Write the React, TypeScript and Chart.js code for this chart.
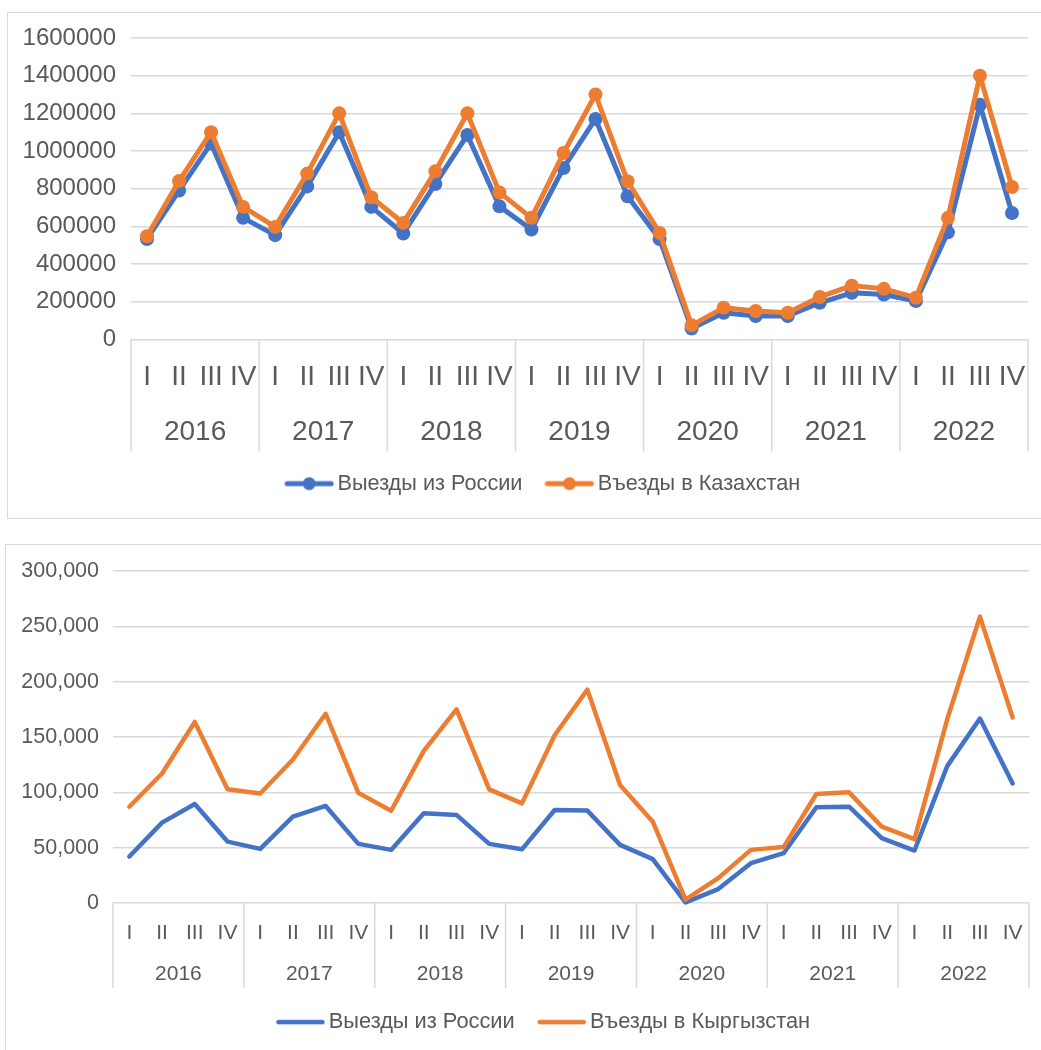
import React, { useEffect, useRef } from 'react';
import { Chart, registerables } from 'chart.js';

Chart.register(...registerables);

// ---------- data ----------
const years = ['2016', '2017', '2018', '2019', '2020', '2021', '2022'];
const quarters = ['I', 'II', 'III', 'IV'];

const kzSeriesNames = ['Выезды из России', 'Въезды в Казахстан'];
const kzExitsRussia = [533000, 790000, 1040000, 645000, 553000, 812000, 1100000, 703000, 562000, 825000, 1085000, 706000, 583000, 910000, 1170000, 759000, 533000, 57000, 141000, 124000, 124000, 194000, 247000, 238000, 203000, 568000, 1245000, 671000];
const kzEntries = [547000, 840000, 1100000, 703000, 597000, 880000, 1200000, 754000, 618000, 892000, 1200000, 780000, 645000, 989000, 1300000, 839000, 565000, 74000, 168000, 150000, 141000, 225000, 285000, 268000, 221000, 645000, 1400000, 809000];

const kgSeriesNames = ['Выезды из России', 'Въезды в Кыргызстан'];
const kgExitsRussia = [42000, 72600, 89500, 55500, 48900, 78000, 87700, 53400, 48000, 81000, 79600, 53400, 48500, 84000, 83500, 52500, 39600, 500, 12600, 36000, 45000, 86500, 87000, 58600, 47400, 123700, 166700, 108000];
const kgEntries = [87000, 117000, 163600, 102700, 99000, 129700, 171000, 99500, 83400, 137500, 175000, 102700, 90000, 151600, 192800, 106600, 73500, 3000, 22500, 48000, 50500, 98500, 100000, 69000, 57700, 166000, 258800, 167600];

const kzYMax = 1600000;
const kzYStep = 200000;
const kgYMax = 300000;
const kgYStep = 50000;

// ---------- styling ----------
const BLUE = '#4472C4';
const ORANGE = '#ED7D31';
const TEXT = '#595959';
const GRID = '#d9d9d9';
const FONT = "'Liberation Sans', Arial, sans-serif";

const quarterLabels: string[] = years.flatMap(() => quarters);

function makeLegendImage(color: string, lineWidth: number, dotRadius: number) {
  const c = document.createElement('canvas');
  c.width = 50;
  c.height = 16;
  const ctx = c.getContext('2d')!;
  ctx.strokeStyle = color;
  ctx.lineWidth = lineWidth;
  ctx.lineCap = 'round';
  ctx.beginPath();
  ctx.moveTo(3, 8);
  ctx.lineTo(47, 8);
  ctx.stroke();
  if (dotRadius > 0) {
    ctx.fillStyle = color;
    ctx.beginPath();
    ctx.arc(25, 8, dotRadius, 0, Math.PI * 2);
    ctx.fill();
  }
  return c;
}

const yearSeparators = {
  id: 'yearSeparators',
  afterDraw(chart: any, _args: any, opts: any) {
    const xs = chart.scales.x;
    const x2 = chart.scales.x2;
    const ctx = chart.ctx;
    ctx.save();
    ctx.strokeStyle = opts.color;
    ctx.lineWidth = opts.width;
    const n = years.length;
    for (let i = 0; i <= n; i++) {
      const px = xs.left + (xs.width * i) / n;
      ctx.beginPath();
      ctx.moveTo(px, xs.top);
      ctx.lineTo(px, x2.bottom + opts.extra);
      ctx.stroke();
    }
    ctx.restore();
  },
};

type Cfg = {
  height: number;
  names: string[];
  series: number[][];
  yMax: number;
  yStep: number;
  yFormat: (v: number) => string;
  pad: { left: number; right: number; top: number; bottom: number };
  yWidth: number;
  rightSpace: number;
  yFont: number;
  yPad: number;
  qFont: number;
  qPad: number;
  qHeight: number;
  yrFont: number;
  yrPad: number;
  yrHeight: number;
  sepExtra: number;
  lineWidth: number;
  pointRadius: number;
  legendFont: number;
  legendPad: number;
  legendBox: number;
};

function LineChart({ cfg }: { cfg: Cfg }) {
  const ref = useRef<HTMLCanvasElement>(null);
  useEffect(() => {
    const colors = [BLUE, ORANGE];
    const imgs = colors.map((c) => makeLegendImage(c, cfg.lineWidth, cfg.pointRadius > 0 ? 6.5 : 0));
    const chart = new Chart(ref.current!, {
      type: 'line',
      data: {
        labels: quarterLabels,
        datasets: cfg.series.map((d, i) => ({
          label: cfg.names[i],
          data: d,
          borderColor: colors[i],
          backgroundColor: colors[i],
          borderWidth: cfg.lineWidth,
          pointRadius: cfg.pointRadius,
          pointHoverRadius: cfg.pointRadius,
          pointBorderWidth: 0,
          pointBackgroundColor: colors[i],
          tension: 0,
          borderJoinStyle: 'round',
          borderCapStyle: 'round',
          order: i === 0 ? 1 : 0,
          clip: false,
        })) as any,
      },
      options: {
        animation: false,
        responsive: false,
        maintainAspectRatio: false,
        layout: { padding: cfg.pad },
        plugins: {
          tooltip: { enabled: false },
          legend: {
            position: 'bottom',
            labels: {
              usePointStyle: true,
              pointStyleWidth: cfg.legendBox,
              padding: cfg.legendPad,
              color: TEXT,
              font: { family: FONT, size: cfg.legendFont },
              generateLabels: (chart: any) =>
                chart.data.datasets.map((ds: any, i: number) => ({
                  text: ds.label,
                  fillStyle: colors[i],
                  strokeStyle: colors[i],
                  lineWidth: 0,
                  pointStyle: imgs[i],
                  hidden: false,
                  datasetIndex: i,
                  fontColor: TEXT,
                })),
            },
          },
          yearSeparators: { color: GRID, width: 1.5, extra: cfg.sepExtra },
        } as any,
        scales: {
          y: {
            min: 0,
            max: cfg.yMax,
            afterFit: (s: any) => {
              s.width = cfg.yWidth;
            },
            border: { display: false },
            grid: { color: GRID, lineWidth: 1.5, drawTicks: false },
            ticks: {
              stepSize: cfg.yStep,
              padding: cfg.yPad,
              color: TEXT,
              font: { family: FONT, size: cfg.yFont },
              callback: (v: any) => cfg.yFormat(Number(v)),
            },
          },
          yR: {
            type: 'linear',
            position: 'right',
            display: true,
            afterFit: (s: any) => {
              s.width = cfg.rightSpace;
            },
            border: { display: false },
            grid: { display: false, drawTicks: false },
            ticks: { display: false },
          },
          x: {
            type: 'category',
            offset: true,
            weight: 0,
            afterFit: (s: any) => {
              s.height = cfg.qHeight;
            },
            border: { display: false },
            grid: { display: false, drawTicks: false },
            ticks: {
              autoSkip: false,
              maxRotation: 0,
              minRotation: 0,
              padding: cfg.qPad,
              color: TEXT,
              font: { family: FONT, size: cfg.qFont },
            },
          },
          x2: {
            type: 'category',
            position: 'bottom',
            labels: years,
            offset: true,
            weight: 1,
            afterFit: (s: any) => {
              s.height = cfg.yrHeight;
            },
            border: { display: false },
            grid: { display: false, drawTicks: false },
            ticks: {
              autoSkip: false,
              maxRotation: 0,
              minRotation: 0,
              padding: cfg.yrPad,
              color: TEXT,
              font: { family: FONT, size: cfg.yrFont },
            },
          },
        } as any,
      },
      plugins: [yearSeparators as any],
    });
    return () => chart.destroy();
  }, [cfg]);
  return <canvas ref={ref} width={1100} height={cfg.height} style={{ display: 'block' }} />;
}

const kzCfg: Cfg = {
  height: 530,
  names: kzSeriesNames,
  series: [kzExitsRussia, kzEntries],
  yMax: kzYMax,
  yStep: kzYStep,
  yFormat: (v) => String(v),
  pad: { left: 0, right: 8, top: 38, bottom: 25.5 },
  yWidth: 131,
  rightSpace: 64,
  yFont: 24,
  yPad: 15,
  qFont: 28,
  qPad: 21,
  qHeight: 52.6,
  yrFont: 28,
  yrPad: 24,
  yrHeight: 51.4,
  sepExtra: 8,
  lineWidth: 5,
  pointRadius: 7,
  legendFont: 21.7,
  legendPad: 29.5,
  legendBox: 35,
};

const kgCfg: Cfg = {
  height: 520,
  names: kgSeriesNames,
  series: [kgExitsRussia, kgEntries],
  yMax: kgYMax,
  yStep: kgYStep,
  yFormat: (v) => v.toLocaleString('en-US'),
  pad: { left: 0, right: 7, top: 41, bottom: 7 },
  yWidth: 113,
  rightSpace: 64,
  yFont: 21.5,
  yPad: 14,
  qFont: 21,
  qPad: 17.5,
  qHeight: 41.2,
  yrFont: 21,
  yrPad: 17.5,
  yrHeight: 37.5,
  sepExtra: 6.3,
  lineWidth: 4.5,
  pointRadius: 0,
  legendFont: 21.8,
  legendPad: 29.5,
  legendBox: 35,
};

export default function App() {
  return (
    <div style={{ position: 'fixed', left: 0, top: 0, width: 1041, height: 1050, overflow: 'hidden', background: '#fff' }}>
      <div style={{ position: 'absolute', left: 7, top: 12, width: 1100, height: 505, border: '1.5px solid #d9d9d9' }} />
      <div style={{ position: 'absolute', left: 5, top: 544, width: 1100, height: 600, border: '1.5px solid #d9d9d9' }} />
      <div style={{ position: 'absolute', left: 0, top: 0 }}>
        <LineChart cfg={kzCfg} />
      </div>
      <div style={{ position: 'absolute', left: 0, top: 530 }}>
        <LineChart cfg={kgCfg} />
      </div>
    </div>
  );
}
